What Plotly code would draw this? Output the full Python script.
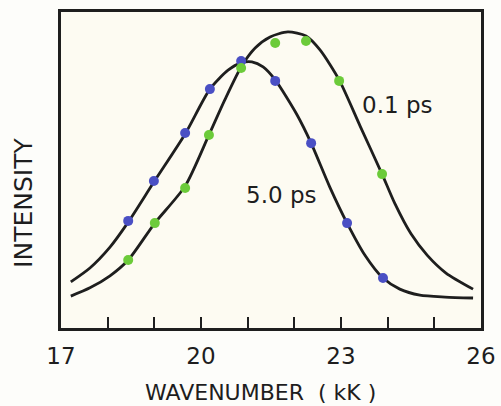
import plotly.graph_objects as go

# Measured points (wavenumber in kK, intensity in arbitrary units)
x_5ps_pts = [18.44, 18.99, 19.66, 20.19, 20.86, 21.59, 22.36, 23.13, 23.90]
y_5ps_pts = [33.9, 46.5, 61.7, 75.6, 84.5, 78.2, 58.5, 33.2, 15.8]

x_01ps_pts = [18.44, 19.01, 19.66, 20.17, 20.86, 21.59, 22.25, 22.96, 23.88]
y_01ps_pts = [21.5, 33.2, 44.3, 61.1, 82.3, 90.2, 90.8, 78.2, 48.7]

# Fitted curves
x_5ps_fit = [17.21, 17.62, 18.05, 18.44, 18.99, 19.66, 20.19, 20.58, 20.86, 21.09,
             21.33, 21.59, 22.06, 22.36, 22.76, 23.13, 23.51, 23.90, 24.26, 24.69,
             25.23, 25.83]
y_5ps_fit = [14.6, 19.0, 25.6, 33.5, 46.2, 61.4, 75.6, 81.6, 83.9, 84.2,
             82.6, 78.5, 67.4, 58.5, 44.6, 33.2, 23.1, 15.8, 12.3, 10.4,
             9.8, 9.5]

x_01ps_fit = [17.21, 17.62, 18.05, 18.44, 19.01, 19.66, 20.17, 20.51, 20.86, 21.16,
              21.48, 21.86, 22.25, 22.55, 22.96, 23.41, 23.88, 24.15, 24.50, 24.85,
              25.25, 25.83]
y_01ps_fit = [10.1, 12.7, 16.5, 21.5, 33.2, 44.9, 61.1, 72.2, 82.6, 88.6,
              92.1, 93.7, 92.4, 88.0, 78.5, 63.9, 48.7, 39.5, 29.8, 23.0,
              17.4, 12.3]

tick_vals = [17, 18, 19, 20, 21, 22, 23, 24, 25, 26]
tick_text = ["17", "", "", "20", "", "", "23", "", "", "26"]

FONT = "DejaVu Sans"
INK = "#1e1e1e"
BLUE = "#4a4fc4"
GREEN = "#6ccb3a"

fig = go.Figure()
for xs, ys in [(x_5ps_fit, y_5ps_fit), (x_01ps_fit, y_01ps_fit)]:
    fig.add_trace(go.Scatter(x=xs, y=ys, mode="lines",
                             line=dict(color=INK, width=2.8, shape="spline", smoothing=0.7),
                             showlegend=False, hoverinfo="skip"))
fig.add_trace(go.Scatter(x=x_5ps_pts, y=y_5ps_pts, mode="markers",
                         marker=dict(color=BLUE, size=10), showlegend=False))
fig.add_trace(go.Scatter(x=x_01ps_pts, y=y_01ps_pts, mode="markers",
                         marker=dict(color=GREEN, size=10), showlegend=False))

fig.update_layout(
    width=501, height=406,
    margin=dict(l=61, r=20, t=12, b=78),
    paper_bgcolor="#fdfdfa",
    plot_bgcolor="#fdfbf2",
    font=dict(family=FONT, color=INK),
    xaxis=dict(range=[17, 26], showgrid=False, zeroline=False, automargin=False,
               showline=True, mirror=True, linecolor=INK, linewidth=2.5,
               ticks="inside", ticklen=11, tickwidth=2, tickcolor=INK,
               tickvals=tick_vals, ticktext=tick_text,
               tickfont=dict(size=23, family=FONT, color=INK),
               ticklabelstandoff=6),
    yaxis=dict(range=[0, 100], showgrid=False, zeroline=False, automargin=False,
               showline=True, mirror=True, linecolor=INK, linewidth=2.5,
               showticklabels=False, ticks=""),
    annotations=[
        dict(text="WAVENUMBER  ( kK )", xref="paper", yref="paper", x=0.474, y=-0.203,
             showarrow=False, font=dict(size=22, family=FONT, color=INK),
             xanchor="center", yanchor="middle"),
        dict(text="INTENSITY", xref="paper", yref="paper", x=-0.088, y=0.396,
             showarrow=False, textangle=-90, font=dict(size=25, family=FONT, color=INK),
             xanchor="center", yanchor="middle"),
        dict(text="0.1 ps", x=24.2, y=70.6, showarrow=False,
             font=dict(size=23, family=FONT, color=INK)),
        dict(text="5.0 ps", x=21.71, y=42.1, showarrow=False,
             font=dict(size=23, family=FONT, color=INK)),
    ],
)

fig.write_html("out.html", config={"displayModeBar": False},
               post_script="document.body.style.margin='0';document.body.style.overflow='hidden';")
